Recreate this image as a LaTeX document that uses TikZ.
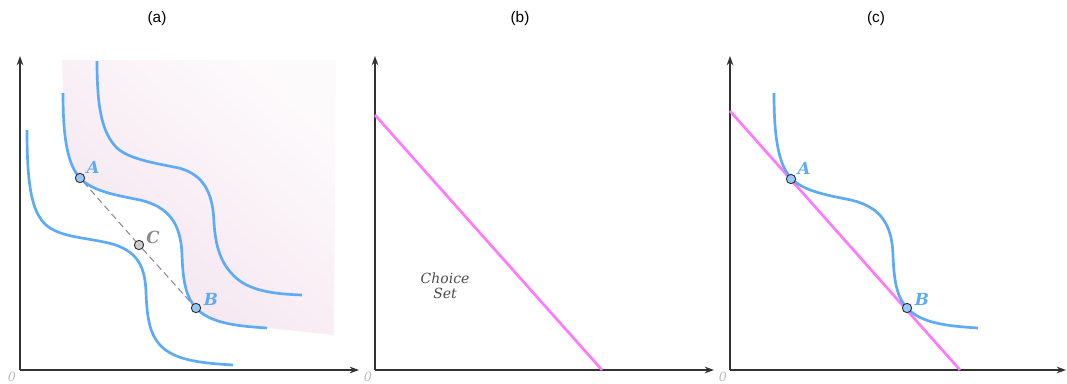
\documentclass[tikz,border=0pt]{standalone}
\usepackage{fontspec}
\setmainfont{Liberation Sans}
\newfontfamily\slabfont{DejaVu Serif}
\usetikzlibrary{arrows.meta}
\definecolor{curveblue}{RGB}{92,170,248}
\definecolor{budget}{RGB}{255,120,255}
\definecolor{axisgray}{RGB}{50,50,50}
\definecolor{ptblue}{RGB}{150,200,245}
\definecolor{ptgray}{RGB}{205,205,205}
\definecolor{shadepink}{RGB}{244,228,238}
\definecolor{shadelight}{RGB}{253,250,252}
\definecolor{zerogray}{RGB}{185,185,185}
\definecolor{labgray}{RGB}{140,140,140}
\tikzset{
  axis/.style={draw=axisgray, line width=1pt, -{Stealth[length=7pt,width=5pt]}},
  curve/.style={draw=curveblue, line width=2pt},
  bline/.style={draw=budget, line width=2pt},
  pt/.style={circle, draw=axisgray, line width=0.7pt, fill=ptblue, minimum size=7pt, inner sep=0pt},
  ptc/.style={pt, fill=ptgray},
  lab/.style={font=\slabfont\bfseries\itshape\fontsize{12.5}{13}\selectfont, text=curveblue},
  zero/.style={font=\slabfont\itshape\fontsize{9.5}{10}\selectfont, text=zerogray, inner sep=0pt},
  title/.style={font=\fontsize{11.5}{13}\selectfont, text=black},
  note/.style={font=\slabfont\itshape\fontsize{10.5}{12}\selectfont, text=black!70, align=center}
}
\begin{document}
\begin{tikzpicture}[x=0.75pt, y=-0.75pt]
\useasboundingbox (0,0) rectangle (1067,383);

% ---------- panel (a)
\shade[top color=shadelight, bottom color=shadepink, shading angle=-40]
  (63,93) .. controls (63,140) and (68,165) .. (80,178)
  .. controls (92,191) and (115,195) .. (140,200)
  .. controls (170,207) and (181,225) .. (182,255)
  .. controls (183,285) and (187,298) .. (196,308)
  .. controls (210,323) and (235,326) .. (267,328)
  -- (334,335) -- (336,60) -- (62,60) -- cycle;

\coordinate (Oa) at (20,370);
\coordinate (Ya) at (20,56);
\coordinate (Xa) at (359,370);
\draw[axis] (Oa) -- (Ya);
\draw[axis] (Oa) -- (Xa);
\node[zero] (za) at (12,377) {0};
\node[title] (ta) at (157,19) {(a)};

\begin{scope}[shift={(-36,37)}]
\draw[curve] (63,93) .. controls (63,150) and (68,175) .. (82,188)
  .. controls (95,199) and (115,200) .. (140,205)
  .. controls (170,211) and (181,225) .. (182,255)
  .. controls (183,285) and (187,298) .. (196,308)
  .. controls (210,323) and (235,326) .. (269,328);
\end{scope}
\draw[curve] (63,93) .. controls (63,140) and (68,165) .. (80,178)
  .. controls (92,191) and (115,195) .. (140,200)
  .. controls (170,207) and (181,225) .. (182,255)
  .. controls (183,285) and (187,298) .. (196,308)
  .. controls (210,323) and (235,326) .. (267,328);
\begin{scope}[shift={(34,-32)}]
\draw[curve] (63,93) .. controls (63,140) and (68,165) .. (83,180)
  .. controls (95,191) and (120,195) .. (145,200)
  .. controls (170,207) and (179,225) .. (180,255)
  .. controls (182,285) and (190,298) .. (200,308)
  .. controls (215,323) and (240,326) .. (268,327);
\end{scope}

\node[pt] (Aa) at (80,178) {};
\node[pt] (Ba) at (196,308) {};
\node[ptc] (Ca) at (139,245) {};
\draw[labgray, line width=0.8pt, dash pattern=on 5pt off 3pt] (Aa) -- (Ca);
\draw[labgray, line width=0.8pt, dash pattern=on 5pt off 3pt] (Ca) -- (Ba);
\node[lab] (lA) at (93,167) {A};
\node[lab] (lB) at (211,299) {B};
\node[lab, text=labgray] (lC) at (153,237) {C};

% ---------- panel (b)
\coordinate (Ob) at (375,370);
\coordinate (Yb) at (375,56);
\coordinate (Xb) at (714,370);
\draw[axis] (Ob) -- (Yb);
\draw[axis] (Ob) -- (Xb);
\node[zero] (zb) at (368,377) {0};
\node[title] (tb) at (520,19) {(b)};
\coordinate (b1) at (375,115);
\coordinate (b2) at (602,370);
\draw[bline] (b1) -- (b2);
\node[note] (cs) at (445,286) {Choice\\[-1pt]Set};

% ---------- panel (c)
\coordinate (Oc) at (730,370);
\coordinate (Yc) at (730,56);
\coordinate (Xc) at (1066,370);
\draw[axis] (Oc) -- (Yc);
\draw[axis] (Oc) -- (Xc);
\node[zero] (zc) at (723,377) {0};
\node[title] (tc) at (876,19) {(c)};
\coordinate (c1) at (730,111);
\coordinate (c2) at (960,370);
\draw[bline] (c1) -- (c2);
\begin{scope}[shift={(711,0)}]
\draw[curve] (63,93) .. controls (63,140) and (68,165) .. (80,178)
  .. controls (92,191) and (115,195) .. (140,200)
  .. controls (170,207) and (181,225) .. (182,255)
  .. controls (183,285) and (187,298) .. (196,308)
  .. controls (210,323) and (235,326) .. (267,328);
\end{scope}
\node[pt] (Ac) at (791,179) {};
\node[pt] (Bc) at (907,308) {};
\node[lab] (lAc) at (804,168) {A};
\node[lab] (lBc) at (922,299) {B};
\end{tikzpicture}
\end{document}
